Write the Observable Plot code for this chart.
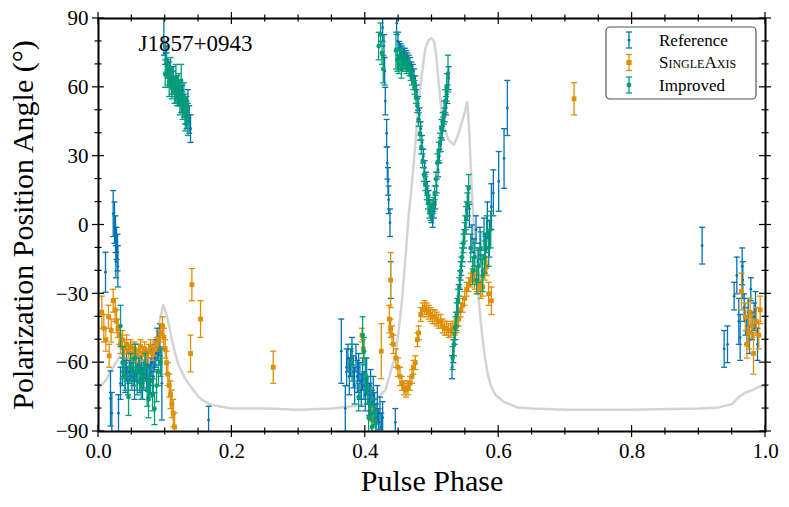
<!DOCTYPE html>
<html><head><meta charset="utf-8">
<script src="https://cdn.jsdelivr.net/npm/d3@7"></script>
<script src="https://cdn.jsdelivr.net/npm/@observablehq/plot@0.6"></script>
<style>body{margin:0;background:#fff}#chart{width:789px;height:507px}</style>
</head><body><div id="chart"></div>
<script>
// [phase, PA (deg), error (deg)]
const referencePts = [
[0.0105,-20.6,8.7],[0.018,-75.6,12],[0.020,-82,9],[0.022,5,10],[0.024,1,9],[0.0255,-4,8],[0.027,-8,7],[0.0285,-12,8],[0.026,-16,7],[0.029,-18,9],
[0.030,-82,8],[0.033,-69,7],[0.036,-64,6],[0.038,-60,6],[0.040,-66,7],[0.042,-62,6],[0.044,-68,6],[0.046,-64,5],[0.048,-60,6],[0.050,-66,6],
[0.052,-63,5],[0.054,-70,6],[0.056,-62,6],[0.058,-66,6],[0.060,-60,5],[0.062,-67,6],[0.064,-63,6],[0.066,-69,7],[0.068,-65,6],[0.070,-61,6],
[0.072,-66,6],[0.074,-62,6],[0.076,-68,7],[0.078,-64,6],[0.080,-60,6],[0.082,-66,7],[0.084,-58,6],[0.086,-56,6],[0.088,-52,7],[0.090,-55,6],
[0.092,-50,7],[0.095,-69,16],
[0.098,82,8],[0.100,75,5],[0.102,70,5],[0.104,68,4],[0.106,66,5],[0.108,64,4],[0.110,62,5],[0.112,64,5],[0.114,60,4],[0.116,58,5],
[0.118,60,5],[0.120,56,4],[0.122,57,5],[0.124,54,5],[0.126,55,6],[0.128,52,5],[0.130,50,6],[0.132,48,6],[0.134,52,7],[0.136,46,6],[0.138,42,6],
[0.165,-85,6],
[0.364,-55,14],[0.370,-80,10],[0.372,-62,8],[0.374,-58,6],[0.376,-66,8],[0.378,-60,6],[0.380,-55,6],[0.382,-64,7],[0.384,-70,8],[0.386,-58,6],
[0.388,-66,7],[0.390,-62,6],[0.392,-68,8],[0.394,-72,7],[0.396,-65,7],[0.398,-70,6],[0.400,-74,7],[0.402,-66,8],[0.404,-72,6],[0.406,-76,7],
[0.408,-70,7],[0.410,-78,6],[0.412,-74,8],[0.414,-80,7],[0.416,-84,6],[0.418,-78,8],[0.420,-86,6],[0.422,-82,7],[0.424,-88,6],[0.426,-84,7],
[0.426,86,6],[0.428,78,5],[0.429,67,6],[0.430,54,6],[0.432,40,6],[0.433,27,7],[0.434,19,6],[0.435,11,6],[0.437,1,6],[0.438,-24,8],[0.445,-86,6],
[0.447,88,5],[0.449,80,4],[0.451,77,3],[0.453,76,3],[0.455,75,3],[0.457,74,3],[0.459,74,3],[0.461,73,3],[0.463,72,3],[0.465,71,3],
[0.467,70,3],[0.469,68,3],[0.471,67,3],[0.473,65,3],[0.475,62,3],[0.477,58,3],[0.479,53,3],[0.481,48,3],[0.483,42,3],[0.485,36,3],
[0.487,30,3],[0.489,25,3],[0.491,20,3],[0.493,16,3],[0.495,12,3],[0.497,8,3],[0.499,4,3],[0.501,2,3],[0.503,6,3],[0.505,10,3],
[0.507,17,3],[0.509,24,3],[0.511,30,3],[0.513,35,3],[0.515,40,3],[0.517,44,3],[0.519,48,3],[0.521,52,4],[0.523,57,4],[0.525,64,5],
[0.530,-62,5],[0.532,-55,5],[0.534,-48,4],[0.536,-42,4],[0.538,-36,4],[0.540,-30,4],[0.542,-24,4],[0.544,-18,4],[0.546,-12,4],[0.548,-6,4],
[0.550,0,4],[0.552,6,4],[0.554,12,5],[0.556,4,5],
[0.560,-6,6],[0.563,-12,6],[0.566,-2,6],[0.569,-16,6],[0.572,-8,7],[0.575,-20,7],[0.578,-4,7],[0.580,-12,7],[0.583,2,8],[0.586,-6,8],
[0.589,8,10],[0.592,14,10],[0.600,19,13],[0.608,29,13],[0.613,51,12],
[0.905,-9,8],[0.938,-54,8],[0.943,-52,8],[0.953,-31,6],[0.957,-22,8],[0.960,-42,10],[0.962,-49,10],[0.965,-18,8],[0.966,-24,8],[0.968,-36,6],
[0.970,-42,6],[0.972,-46,6],[0.974,-38,6],[0.976,-50,6],[0.978,-28,5],[0.980,-44,6],[0.983,-40,6],[0.985,-37,8],[0.988,-52,7]
];
const singleAxisPts = [
[0.005,-38,7],[0.008,-45,6],[0.011,-50,5],[0.015,-40,5],[0.016,-57,5],[0.019,-46,5],[0.022,-33,5],[0.025,-37,5],[0.027,-42,5],[0.029,-45,4],
[0.031,-48,4],[0.033,-52,4],[0.036,-50,4],[0.039,-54,4],[0.042,-52,4],[0.045,-55,3],[0.048,-53,3],[0.051,-56,3],[0.054,-54,3],[0.057,-57,3],
[0.060,-55,3],[0.063,-53,3],[0.066,-56,3],[0.069,-54,3],[0.072,-57,3],[0.075,-55,3],[0.078,-53,3],[0.081,-56,3],[0.084,-54,3],[0.087,-52,3],
[0.090,-50,4],[0.093,-47,4],[0.096,-44,4],[0.098,-49,4],[0.100,-54,4],[0.102,-60,5],[0.104,-65,5],[0.106,-70,5],[0.108,-74,6],[0.110,-78,6],
[0.112,-82,6],[0.114,-88,6],
[0.138,-56,8],[0.140,-26,7],[0.153,-41,8],[0.262,-62,7],
[0.395,-48,3],[0.397,-54,4],[0.410,-85,5],[0.424,-55,12],[0.436,-41,6],[0.438,-45,4],[0.440,-48,4],[0.442,-52,4],[0.438,-24,12],
[0.446,-58,4],[0.449,-62,4],[0.452,-66,4],[0.455,-69,3],[0.458,-71,3],[0.461,-72,3],[0.464,-71,3],[0.467,-69,3],[0.470,-66,3],[0.472,-62,3],
[0.475,-60,3],[0.478,-50,3],[0.480,-47,3],
[0.483,-39,3],[0.486,-37,3],[0.489,-36,3],[0.492,-37,3],[0.495,-38,3],[0.498,-39,3],[0.501,-40,3],[0.504,-40,3],[0.507,-41,3],[0.510,-42,3],
[0.513,-42,3],[0.516,-44,3],[0.519,-45,3],[0.522,-45,3],[0.525,-46,3],[0.528,-46,3],[0.531,-45,3],[0.534,-45,3],[0.537,-44,3],[0.540,-41,3],
[0.543,-37,3],[0.546,-35,3],[0.549,-32,3],[0.552,-28,3],[0.555,-26,3],[0.558,-24,3],[0.561,-22,3],[0.564,-24,4],[0.567,-25,4],[0.570,-26,4],
[0.573,-28,4],[0.576,-27,4],[0.579,-20,4],[0.582,-18,4],[0.585,-30,5],[0.589,-33,6],
[0.713,55,7],
[0.964,-29,8],[0.970,-40,6],[0.972,-52,6],[0.975,-47,7],[0.977,-38,6],[0.980,-44,5],[0.982,-56,9],[0.986,-42,6],[0.990,-48,6],[0.992,-37,6]
];
const improvedPts = [
[0.033,-44,9],[0.036,-60,7],[0.040,-66,6],[0.045,-75,8],[0.048,-62,6],[0.052,-64,6],[0.055,-58,6],[0.058,-68,6],[0.061,-63,5],[0.064,-70,6],
[0.067,-66,6],[0.070,-62,6],[0.073,-72,7],[0.075,-76,8],[0.078,-68,6],[0.081,-74,7],[0.084,-80,7],[0.087,-70,7],[0.090,-64,6],[0.093,-60,6],
[0.100,66,6],[0.102,72,6],[0.104,65,5],[0.106,62,6],[0.108,68,5],[0.110,60,5],[0.112,62,5],[0.114,58,5],[0.116,64,6],[0.118,57,5],
[0.120,60,6],[0.122,54,6],[0.124,63,7],[0.126,52,6],[0.128,56,6],[0.130,48,7],[0.132,50,6],[0.134,46,7],
[0.380,-60,8],[0.390,-75,6],[0.396,-48,8],[0.398,-55,6],[0.400,-65,7],[0.403,-72,6],[0.405,-84,6],[0.408,-78,7],[0.410,-88,6],[0.413,-82,6],[0.416,-86,5],
[0.420,78,6],[0.423,83,5],[0.425,75,5],[0.427,68,6],
[0.446,76,8],[0.448,72,5],[0.450,70,4],[0.452,73,4],[0.454,68,4],[0.456,72,4],[0.458,70,3],[0.460,71,3],[0.462,69,3],[0.464,70,3],
[0.466,68,3],[0.468,66,3],[0.470,64,3],[0.472,62,3],[0.474,60,3],[0.476,56,3],[0.478,52,3],[0.480,46,3],[0.482,40,3],[0.484,34,3],
[0.486,28,3],[0.488,22,3],[0.490,18,3],[0.492,14,3],[0.494,10,3],[0.496,6,3],[0.498,5,3],[0.500,8,3],[0.502,9,3],[0.504,14,3],
[0.506,20,3],[0.508,27,4],[0.510,32,4],[0.512,36,4],[0.514,42,4],[0.516,45,4],[0.518,49,5],[0.520,54,5],[0.522,60,6],[0.524,66,8],
[0.531,-58,5],[0.533,-52,5],[0.535,-45,5],[0.537,-39,5],[0.539,-33,5],[0.541,-27,4],[0.543,-20,4],[0.545,-14,4],[0.547,-8,4],[0.549,-3,4],
[0.551,3,5],[0.553,9,5],[0.555,16,6],
[0.558,-10,6],[0.561,-20,6],[0.564,-14,6],[0.567,-24,6],[0.570,-18,7],[0.573,-10,7],[0.576,-22,7],[0.579,-14,7],[0.582,-4,8],[0.585,-10,8],[0.588,-2,8]
];
// pulse profile, expressed on the PA axis
const profilePts = [
[0,-71],[0.01,-68],[0.02,-63],[0.03,-58],[0.04,-54],[0.05,-51],[0.06,-52],[0.07,-55],[0.08,-53],[0.088,-48],[0.093,-40],[0.097,-35],
[0.101,-38],[0.106,-44],[0.11,-50],[0.115,-56],[0.12,-61],[0.125,-64],[0.13,-67],[0.14,-71],[0.15,-75],[0.16,-77],[0.17,-78.5],[0.18,-79],
[0.2,-80],[0.25,-80],[0.3,-80.5],[0.35,-80],[0.38,-79],[0.40,-78],[0.41,-77],[0.42,-75],[0.43,-72],[0.44,-62],[0.445,-57],[0.45,-46],
[0.455,-33],[0.46,-15],[0.465,4],[0.47,18],[0.475,35],[0.478,47],[0.483,62],[0.49,77],[0.495,80.5],[0.499,81.5],[0.503,80],[0.506,75],
[0.51,62],[0.515,48],[0.52,41],[0.525,37],[0.533,35],[0.54,40],[0.548,48],[0.553,53.5],[0.556,40],[0.558,26],[0.561,8],[0.565,-10],
[0.568,-25],[0.573,-42],[0.578,-55],[0.583,-64],[0.588,-70],[0.595,-74],[0.607,-77],[0.628,-79.5],[0.65,-80],[0.7,-80.5],[0.8,-80.5],
[0.9,-80],[0.93,-79.5],[0.95,-78],[0.96,-75],[0.97,-73],[0.98,-72],[0.99,-70.5],[1.0,-70]
];
const xMajorTicks = [0, 0.2, 0.4, 0.6, 0.8, 1.0];
const xMinorTicks = [0.05,0.1,0.15,0.25,0.3,0.35,0.45,0.5,0.55,0.65,0.7,0.75,0.85,0.9,0.95];
const yMajorTicks = [-90, -60, -30, 0, 30, 60, 90];
const yMinorTicks = [-80,-70,-50,-40,-20,-10,10,20,40,50,70,80];
const seriesNames = ["Reference", "SingleAxis", "Improved"];
const seriesColors = ["#0173B2", "#DE8F05", "#029E73"];
const pulsarName = "J1857+0943";

const capSymbol = {draw(ctx, size) {const r = Math.sqrt(size / Math.PI); ctx.moveTo(-r, 0); ctx.lineTo(r, 0);}};

function errorMarks(data, color, symbol, r) {
  return [
    Plot.ruleX(data, {x: d => d[0], y1: d => d[1] - d[2], y2: d => d[1] + d[2], stroke: color, strokeWidth: 1.3, clip: true}),
    Plot.dot(data, {x: d => d[0], y: d => d[1] - d[2], symbol: capSymbol, r: 3, stroke: color, fill: "none", strokeWidth: 1.3, clip: true}),
    Plot.dot(data, {x: d => d[0], y: d => d[1] + d[2], symbol: capSymbol, r: 3, stroke: color, fill: "none", strokeWidth: 1.3, clip: true}),
    Plot.dot(data, {x: d => d[0], y: d => d[1], symbol, r, fill: color, stroke: "none", clip: true})
  ];
}

function frameTicks(index, scales, values, dims) {
  const g = d3.create("svg:g").attr("stroke", "black").attr("stroke-width", 1.2);
  const x0 = dims.marginLeft, x1 = dims.width - dims.marginRight;
  const y0 = dims.marginTop, y1 = dims.height - dims.marginBottom;
  const line = (a, b, c, d) => g.append("line").attr("x1", a).attr("y1", b).attr("x2", c).attr("y2", d);
  for (const [ticks, h] of [[xMajorTicks, 6], [xMinorTicks, 3.5]]) {
    for (const t of ticks) { const x = scales.x(t); line(x, y1 - h, x, y1 + h); line(x, y0 - h, x, y0 + h); }
  }
  for (const [ticks, h] of [[yMajorTicks, 6], [yMinorTicks, 3.5]]) {
    for (const t of ticks) { const y = scales.y(t); line(x0 - h, y, x0 + h, y); line(x1 - h, y, x1 + h, y); }
  }
  return g.node();
}

function legend(index, scales, values, dims) {
  const g = d3.create("svg:g");
  const lx = 606, ly = 27, w = 150, h = 72;
  g.append("rect").attr("x", lx).attr("y", ly).attr("width", w).attr("height", h).attr("rx", 4)
    .attr("fill", "white").attr("stroke", "#555").attr("stroke-width", 1.2);
  seriesNames.forEach((name, i) => {
    const cy = ly + 13 + i * 22.5, cx = 629, c = seriesColors[i];
    const e = g.append("g").attr("stroke", c).attr("stroke-width", 1.3);
    e.append("line").attr("x1", cx).attr("x2", cx).attr("y1", cy - 8).attr("y2", cy + 8);
    e.append("line").attr("x1", cx - 3).attr("x2", cx + 3).attr("y1", cy - 8).attr("y2", cy - 8);
    e.append("line").attr("x1", cx - 3).attr("x2", cx + 3).attr("y1", cy + 8).attr("y2", cy + 8);
    if (i === 0) g.append("circle").attr("cx", cx).attr("cy", cy).attr("r", 1.5).attr("fill", c);
    if (i === 1) g.append("rect").attr("x", cx - 2.6).attr("y", cy - 2.6).attr("width", 5.2).attr("height", 5.2).attr("fill", c);
    if (i === 2) g.append("circle").attr("cx", cx).attr("cy", cy).attr("r", 2.4).attr("fill", c);
    const t = g.append("text").attr("x", 659).attr("y", cy).attr("dy", "0.35em").attr("text-anchor", "start")
      .attr("font-size", 17).attr("fill", "black").text(name);
    if (i === 1) t.style("font-variant", "small-caps");
  });
  return g.node();
}

const chart = Plot.plot({
  width: 789, height: 507,
  marginLeft: 98, marginRight: 24, marginTop: 18, marginBottom: 76,
  style: {fontFamily: "'Liberation Serif', serif", fontSize: "21px", background: "white", color: "black"},
  x: {domain: [0, 1]},
  y: {domain: [-90, 90]},
  marks: [
    Plot.line(profilePts, {x: d => d[0], y: d => d[1], stroke: "#d3d3d3", strokeWidth: 2.5}),
    ...errorMarks(referencePts, seriesColors[0], "circle", 1.4),
    ...errorMarks(singleAxisPts, seriesColors[1], "square", 2.7),
    ...errorMarks(improvedPts, seriesColors[2], "circle", 2.3),
    Plot.frame({stroke: "black", strokeWidth: 2}),
    frameTicks,
    Plot.axisX(xMajorTicks, {tickSize: 0, tickPadding: 12, tickFormat: d => d.toFixed(1), fontSize: 21, label: null}),
    Plot.axisY(yMajorTicks, {tickSize: 0, tickPadding: 10, tickFormat: d => (d < 0 ? "\u2212" + Math.abs(d) : String(d)), fontSize: 21, label: null}),
    Plot.text(["Pulse Phase"], {frameAnchor: "bottom", dy: 50, lineAnchor: "middle", textAnchor: "middle", fontSize: 30}),
    Plot.text(["Polarization Position Angle (°)"], {frameAnchor: "left", dx: -75, rotate: -90, textAnchor: "middle", lineAnchor: "middle", fontSize: 30}),
    Plot.text([pulsarName], {x: 0.06, y: 79, textAnchor: "start", fontSize: 23}),
    legend
  ]
});
document.getElementById("chart").appendChild(chart);
</script>
</body></html>
